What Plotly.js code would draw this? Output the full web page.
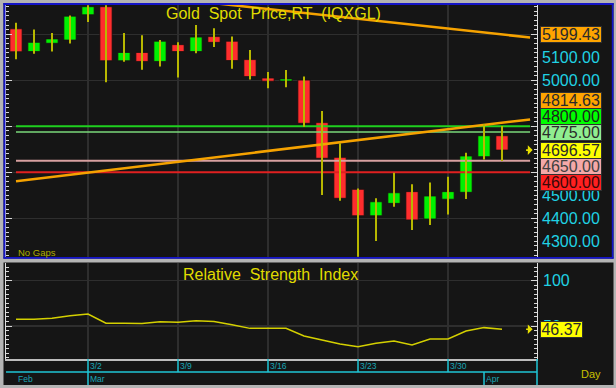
<!DOCTYPE html>
<html><head><meta charset="utf-8">
<script src="https://cdn.plot.ly/plotly-3.0.1.min.js"></script>
<style>html,body{margin:0;padding:0;background:#151515;}#chart{width:616px;height:388px;}</style>
</head><body><div id="chart"></div>
<script>
// ---------------- data ----------------
const dates = ['2/24','2/25','2/26','2/27','3/2','3/3','3/4','3/5','3/6','3/9','3/10','3/11','3/12','3/13',
               '3/16','3/17','3/18','3/19','3/20','3/23','3/24','3/25','3/26','3/27','3/30','3/31','4/1','4/2'];
const openP  = [5224,5125,5161,5175,5285,5320,5085,5121,5082,5155,5125,5190,5170,5090,5010,4997,5001,4816,4665,4526,4411,4465,4516,4397,4483,4513,4668,4759];
const highP  = [5250,5221,5206,5282,5326,5326,5206,5196,5175,5165,5240,5226,5190,5132,5036,5045,5016,4866,4726,4530,4487,4598,4548,4556,4581,4685,4810,4801];
const lowP   = [5091,5115,5125,5160,5254,4991,5081,5046,5060,5012,5118,5145,5050,5004,4965,4970,4798,4501,4476,4233,4301,4450,4349,4371,4417,4484,4656,4649];
const closeP = [5124,5165,5180,5279,5320,5085,5121,5082,5170,5125,5188,5165,5086,5016,4996,5006,4813,4661,4487,4411,4472,4511,4393,4497,4516,4671,4759,4696.57];
const rsi    = [57.4,57.4,58.5,61.4,63.2,53.0,53.0,52.8,54.8,54.2,55.9,55.0,51.5,47.4,47.4,47.4,39.0,34.5,30.1,27.2,30.9,33.4,29.0,35.7,35.7,44.5,48.2,46.37];

const levelValues = [4800, 4775, 4650, 4600];
const trendX      = [0, 28.56];
const trendDownY  = [5429, 5186];
const trendUpY    = [4561, 4830];
const trendDownLast = 5199.43;
const trendUpLast   = 4814.63;

const priceAxisLabels = [5100, 5000, 4500, 4400, 4300];
const rsiAxisLabels   = [100, 50];
const weekLabels  = ['3/2','3/9','3/16','3/23','3/30'];
const monthLabels = ['Feb','Mar','Apr'];
const monthStarts = ['2/24','3/2','4/1'];

// ---------------- style ----------------
const UP = '#00f000', DOWN = '#ff2d2d', WICK = '#b8b800';
const CYAN = '#20d2e4', DATECYAN = '#1fc6d6', DATETXT = '#1aa6b6';
const levelStyles = [
  {color:'#1fd01f', width:2},
  {color:'#7ad87a', width:1.5},
  {color:'#d8a0a0', width:2},
  {color:'#e02020', width:2}
];
const FONT = 'Liberation Sans, Arial, sans-serif';
const xMin = -0.5556, xMax = 28.944;
const PX = px => (px - 6) / 531;
const PY = py => (385 - py) / 380;

const idx = dates.map((d, i) => i);
const lastClose = closeP[closeP.length - 1];
const lastRsi = rsi[rsi.length - 1];

// ---------------- traces ----------------
const traces = [];
levelValues.forEach((v, i) => {
  traces.push({type:'scatter', mode:'lines', x:trendX, y:[v, v], xaxis:'x', yaxis:'y',
    line:{color:levelStyles[i].color, width:levelStyles[i].width}});
});
traces.push({type:'scatter', mode:'lines', x:trendX, y:trendDownY, line:{color:'#f5a200', width:2.5}});
traces.push({type:'scatter', mode:'lines', x:trendX, y:trendUpY, line:{color:'#f5a200', width:2.5}});

const wickX = [], wickY = [];
idx.forEach(i => { wickX.push(i, i, null); wickY.push(lowP[i], highP[i], null); });
traces.push({type:'scatter', mode:'lines', x:wickX, y:wickY, line:{color:WICK, width:2}});

traces.push({type:'bar', x:idx,
  base: idx.map(i => Math.min(openP[i], closeP[i])),
  y: idx.map(i => Math.abs(closeP[i] - openP[i])),
  width: 0.68,
  marker:{color: idx.map(i => closeP[i] >= openP[i] ? UP : DOWN), line:{color:'#181010', width:0.8}}});

traces.push({type:'scatter', mode:'lines', x:idx, y:rsi, xaxis:'x', yaxis:'y2',
  line:{color:'#d4d000', width:1.5}});
traces.push({type:'scatter', mode:'lines', x:[], y:[], xaxis:'x2', yaxis:'y3'});

// ---------------- shapes ----------------
const weekIdx = weekLabels.map(w => dates.indexOf(w));
const monthIdx = monthStarts.map(m => dates.indexOf(m));
const shapes = [];
const rect = (x0,x1,y0,y1,c) => shapes.push({type:'rect', xref:'paper', yref:'paper',
  x0:PX(x0), x1:PX(x1), y0:PY(y1), y1:PY(y0), fillcolor:c, line:{width:0}, layer:'above'});
const GRAY = '#b4b4b4', BLUE = '#1414c8';
rect(0,616,0,3,GRAY); rect(0,616,385,388,GRAY); rect(0,3.5,0,388,GRAY); rect(613.5,616,0,388,GRAY);
rect(0,616,258.5,262.5,GRAY);
rect(3.5,613.5,3,5,BLUE); rect(3.5,613.5,257,258.7,BLUE); rect(3.5,5.4,3,258.7,BLUE); rect(611.8,613.5,3,258.7,BLUE);

shapes.push({type:'line', xref:'paper', yref:'y3', x0:0, x1:1, y0:1, y1:1, line:{color:DATECYAN, width:1.5}});
shapes.push({type:'line', xref:'paper', yref:'y3', x0:1, x1:1, y0:0, y1:2, line:{color:DATECYAN, width:1.5}});
weekIdx.forEach(k => shapes.push({type:'line', xref:'x2', yref:'y3', x0:k, x1:k, y0:1, y1:2, line:{color:DATECYAN, width:1.5}}));
monthIdx.slice(1).forEach(k => shapes.push({type:'line', xref:'x2', yref:'y3', x0:k, x1:k, y0:0, y1:1, line:{color:DATECYAN, width:1.5}}));

// ---------------- annotations ----------------
const ann = [];
ann.push({xref:'paper', yref:'paper', x:PX(273), y:PY(14), text:'Gold\u00a0\u00a0Spot\u00a0\u00a0Price,RT\u00a0\u00a0(IQXGL)',
  showarrow:false, xanchor:'center', yanchor:'middle', font:{family:FONT, size:16, color:'#e0dc00'}});
ann.push({xref:'paper', yref:'paper', x:PX(270), y:PY(274.5), text:'Relative\u00a0\u00a0Strength\u00a0\u00a0Index',
  showarrow:false, xanchor:'center', yanchor:'middle', font:{family:FONT, size:16, color:'#e0dc00'}});
ann.push({xref:'paper', yref:'paper', x:PX(16.5), y:PY(252.5), text:'No Gaps', showarrow:false,
  xanchor:'left', yanchor:'middle', borderpad:0, font:{family:FONT, size:9.5, color:'#b0ac00'}});
ann.push({xref:'paper', yref:'paper', x:PX(591), y:PY(374), text:'Day', showarrow:false,
  xanchor:'center', yanchor:'middle', font:{family:FONT, size:11, color:'#c8c000'}});

priceAxisLabels.forEach(v => ann.push({xref:'paper', yref:'y', x:PX(540.5), y:v, text:v.toFixed(2),
  showarrow:false, xanchor:'left', yanchor:'middle', borderpad:0, font:{family:FONT, size:16, color:CYAN}}));
rsiAxisLabels.forEach(v => ann.push({xref:'paper', yref:'y2', x:PX(541.5), y:v, text:String(v),
  showarrow:false, xanchor:'left', yanchor:'middle', borderpad:0, font:{family:FONT, size:16, color:CYAN}}));

const boxLabels = [
  {v:trendDownLast, bg:'#ffa500', fg:'#2a2a2a', shift:0},
  {v:trendUpLast,   bg:'#ffa500', fg:'#2a2a2a', shift:22.9},
  {v:levelValues[0],bg:'#00ff00', fg:'#1e1e1e', shift:9.8},
  {v:levelValues[1],bg:'#90ee90', fg:'#2a2a2a', shift:-0.9},
  {v:lastClose,     bg:'#ffff00', fg:'#2a2a2a', shift:0},
  {v:levelValues[2],bg:'#f4a8a8', fg:'#404040', shift:-5.5},
  {v:levelValues[3],bg:'#ff2020', fg:'#3a0808', shift:-10.5}
];
boxLabels.forEach(b => ann.push({xref:'paper', yref:'y', x:PX(540), y:b.v, yshift:b.shift, text:b.v.toFixed(2),
  showarrow:false, xanchor:'left', yanchor:'middle', bgcolor:b.bg, bordercolor:'#303030', borderwidth:1, borderpad:0,
  width:60, height:14.5, font:{family:FONT, size:16, color:b.fg}}));
ann.push({xref:'paper', yref:'y2', x:PX(540), y:lastRsi, text:lastRsi.toFixed(2), showarrow:false,
  xanchor:'left', yanchor:'middle', bgcolor:'#ffff00', bordercolor:'#303030', borderwidth:1, borderpad:0,
  width:41, height:14.5, font:{family:FONT, size:16, color:'#2a2a2a'}});

[['y', lastClose], ['y2', lastRsi]].forEach(([ya, v]) => ann.push({xref:'x', yref:ya, x:28.7, y:v, text:'',
  showarrow:true, ax:-8, ay:0, arrowhead:1, arrowsize:1, arrowwidth:1.6, arrowcolor:'#e8e000'}));

weekLabels.forEach((w, i) => ann.push({xref:'x2', yref:'y3', x:weekIdx[i], y:1.5, xshift:1.2, text:w,
  showarrow:false, xanchor:'left', yanchor:'middle', borderpad:0, font:{family:FONT, size:8.5, color:DATETXT}}));
monthLabels.forEach((m, i) => ann.push({xref:'x2', yref:'y3', x:monthIdx[i], y:0.5, xshift:i === 0 ? 0.7 : 1.2, text:m,
  showarrow:false, xanchor:'left', yanchor:'middle', borderpad:0, font:{family:FONT, size:8.5, color:DATETXT}}));

// ---------------- layout ----------------
const tickStyle = {ticks:'inside', tickcolor:'#d8d8d8', tickwidth:1, ticklen:6};
const layout = {
  width:616, height:388, margin:{l:6, r:79, t:5, b:3, pad:0},
  paper_bgcolor:'#151515', plot_bgcolor:'#151515',
  showlegend:false, hovermode:false, dragmode:false, bargap:0,
  font:{family:FONT},
  xaxis:{domain:[0,1], anchor:'y2', range:[xMin, xMax], tickmode:'array', tickvals:weekIdx, showticklabels:false,
    ticks:'', showgrid:true, gridcolor:'#2e2e2e', gridwidth:1.5, zeroline:false,
    showline:true, linecolor:'#bdbdbd', linewidth:2, fixedrange:true},
  yaxis:Object.assign({domain:[0.33553,1], anchor:'x', range:[4229.6, 5327.4], tick0:0, dtick:200,
    showticklabels:false, showgrid:true, gridcolor:'#2e2e2e', gridwidth:1.5, zeroline:false,
    showline:true, mirror:'ticks', linecolor:'#e0e0e0', linewidth:1, fixedrange:true,
    minor:{dtick:20, ticks:'inside', ticklen:3, tickcolor:'#d8d8d8', showgrid:false}}, tickStyle),
  yaxis2:Object.assign({domain:[0.06842,0.32105], anchor:'x', range:[13.6, 119.5], tick0:0, dtick:50,
    showticklabels:false, showgrid:true, gridcolor:'#2e2e2e', gridwidth:1.5, zeroline:false,
    showline:true, mirror:'ticks', linecolor:'#e0e0e0', linewidth:1, fixedrange:true,
    minor:{dtick:5, ticks:'inside', ticklen:3, tickcolor:'#d8d8d8', showgrid:false}}, tickStyle),
  xaxis2:{domain:[0,1], anchor:'y3', range:[xMin, xMax], visible:false, fixedrange:true},
  yaxis3:{domain:[0,0.06842], anchor:'x2', range:[0,2], visible:false, fixedrange:true},
  shapes:shapes, annotations:ann
};

Plotly.newPlot('chart', traces, layout, {staticPlot:true, displayModeBar:false});
</script></body></html>
